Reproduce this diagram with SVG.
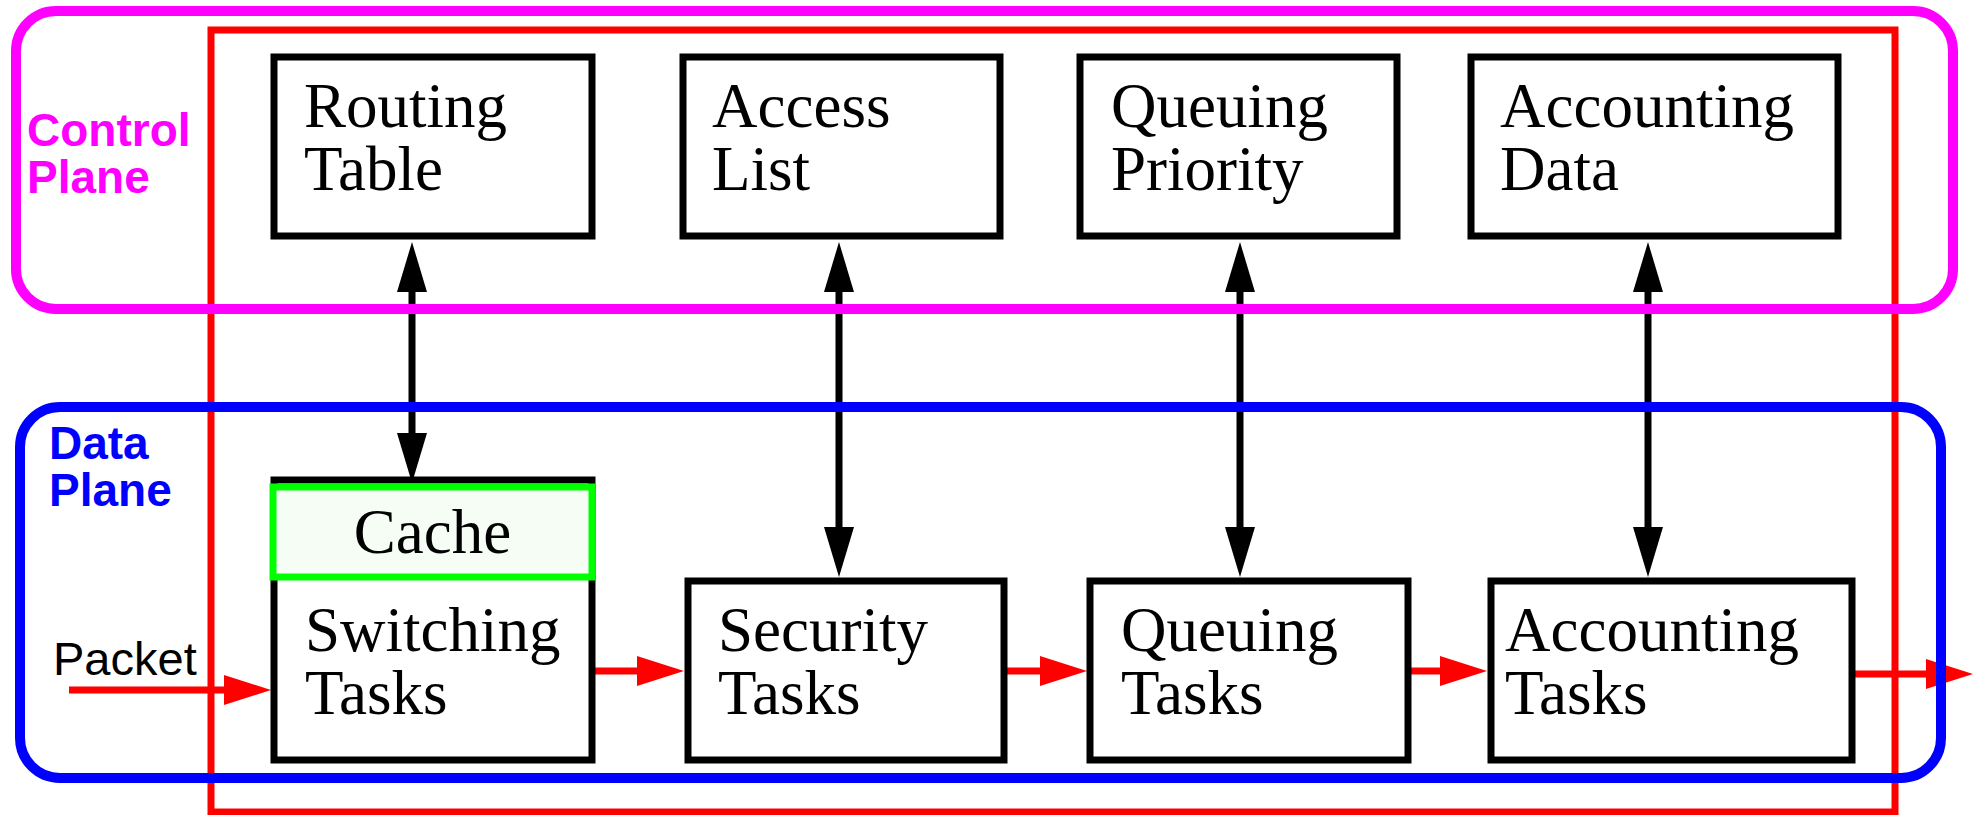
<svg xmlns="http://www.w3.org/2000/svg" width="1975" height="815" viewBox="0 0 1975 815">
  <style>
    .box { fill: #ffffff; stroke: #000000; stroke-width: 7; }
    .cache { fill: #f5fdf5; stroke: #00ff00; stroke-width: 7; }
    .lbl { font-family: "Liberation Serif", "Times New Roman", serif; font-size: 63px; fill: #000000; }
    .plane { font-family: "Liberation Sans", Arial, sans-serif; font-size: 46px; font-weight: bold; }
    .bi { fill: none; stroke: #000000; stroke-width: 7; marker-start: url(#bh); marker-end: url(#bh); }
    .flow { fill: none; stroke: #ff0000; stroke-width: 7; marker-end: url(#rh); }
  </style>
  <defs>
    <marker id="bh" viewBox="0 0 50 30" refX="0" refY="15" markerWidth="50" markerHeight="30" markerUnits="userSpaceOnUse" orient="auto-start-reverse">
      <path d="M0,0 L50,15 L0,30 z" fill="#000000"/>
    </marker>
    <marker id="rh" viewBox="0 0 47 30" refX="0" refY="15" markerWidth="47" markerHeight="30" markerUnits="userSpaceOnUse" orient="auto">
      <path d="M0,0 L47,15 L0,30 z" fill="#ff0000"/>
    </marker>
  </defs>

  <g id="router-frame">
    <rect x="211" y="30" width="1684" height="782" fill="none" stroke="#ff0000" stroke-width="7"/>
  </g>

  <g id="connectors">
    <path class="bi" d="M412,292 L412,433"/>
    <path class="bi" d="M839,292 L839,527"/>
    <path class="bi" d="M1240,292 L1240,527"/>
    <path class="bi" d="M1648,292 L1648,527"/>
    <path class="flow" d="M69,690 L224,690"/>
    <path class="flow" d="M595,671 L637,671"/>
    <path class="flow" d="M1007,671 L1040,671"/>
    <path class="flow" d="M1411,671 L1440,671"/>
    <path class="flow" d="M1855,674 L1926,674"/>
  </g>

  <g id="routing-table">
    <rect class="box" x="274" y="57" width="318" height="179"/>
    <text class="lbl" x="304" y="127">Routing<tspan x="304" dy="63">Table</tspan></text>
  </g>
  <g id="access-list">
    <rect class="box" x="683" y="57" width="317" height="179"/>
    <text class="lbl" x="712" y="127">Access<tspan x="712" dy="63">List</tspan></text>
  </g>
  <g id="queuing-priority">
    <rect class="box" x="1080" y="57" width="317" height="179"/>
    <text class="lbl" x="1111" y="127">Queuing<tspan x="1111" dy="63">Priority</tspan></text>
  </g>
  <g id="accounting-data">
    <rect class="box" x="1471" y="57" width="367" height="179"/>
    <text class="lbl" x="1500" y="127">Accounting<tspan x="1500" dy="63">Data</tspan></text>
  </g>

  <g id="switching-tasks">
    <rect class="box" x="274" y="480" width="318" height="280"/>
    <text class="lbl" x="305" y="651">Switching<tspan x="305" dy="63">Tasks</tspan></text>
  </g>
  <g id="cache">
    <rect class="cache" x="273" y="487" width="319" height="90"/>
    <text class="lbl" x="432.5" y="553" text-anchor="middle">Cache</text>
  </g>
  <g id="security-tasks">
    <rect class="box" x="688" y="581" width="316" height="179"/>
    <text class="lbl" x="718" y="651">Security<tspan x="718" dy="63">Tasks</tspan></text>
  </g>
  <g id="queuing-tasks">
    <rect class="box" x="1090" y="581" width="318" height="179"/>
    <text class="lbl" x="1121" y="651">Queuing<tspan x="1121" dy="63">Tasks</tspan></text>
  </g>
  <g id="accounting-tasks">
    <rect class="box" x="1491" y="581" width="361" height="179"/>
    <text class="lbl" x="1505" y="651">Accounting<tspan x="1505" dy="63">Tasks</tspan></text>
  </g>

  <g id="packet-label">
    <text x="53" y="675" font-family="'Liberation Sans', Arial, sans-serif" font-size="47" fill="#000000">Packet</text>
  </g>

  <g id="control-plane">
    <rect x="16" y="11" width="1937" height="298" rx="40" ry="40" fill="none" stroke="#ff00ff" stroke-width="10"/>
    <text class="plane" x="27" y="146" fill="#ff00ff">Control<tspan x="27" dy="47">Plane</tspan></text>
  </g>
  <g id="data-plane">
    <rect x="20" y="407" width="1921" height="371" rx="40" ry="40" fill="none" stroke="#0000ff" stroke-width="10"/>
    <text class="plane" x="49" y="459" fill="#0000ff">Data<tspan x="49" dy="47">Plane</tspan></text>
  </g>
</svg>
